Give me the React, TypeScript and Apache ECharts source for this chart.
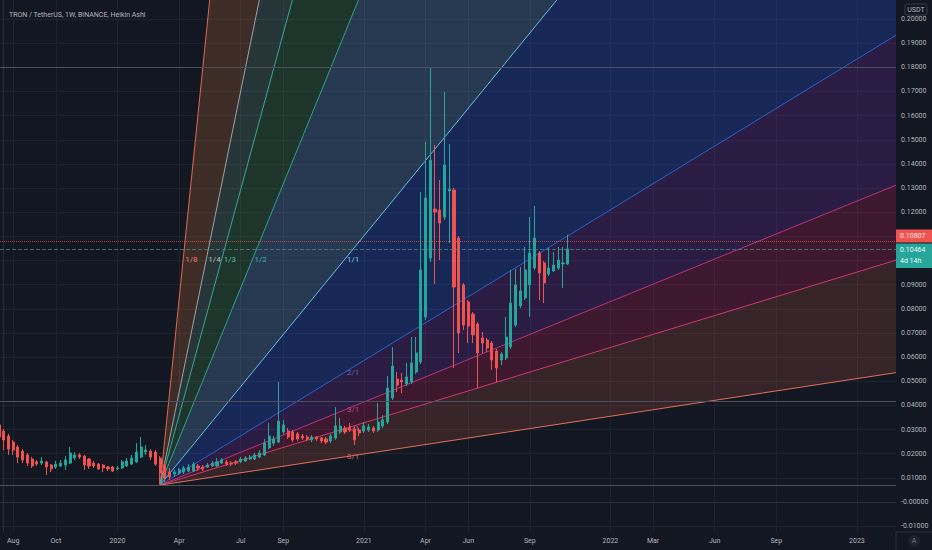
import React, { useEffect, useRef } from "react";
import * as echarts from "echarts";

// ---- axes ----
const X_MIN = -0.78; // week index (0 = week of 2019-07-22)
const X_MAX = 188.25;
const Y_MIN = -0.01242;
const Y_MAX = 0.20787;

const TIME_TICK_WEEKS = [2, 11, 24, 37, 50, 59, 76, 89, 98, 111, 128, 137, 150, 163, 180];
const TIME_TICK_LABELS = ["Aug", "Oct", "2020", "Apr", "Jul", "Sep", "2021", "Apr", "Jun", "Sep", "2022", "Mar", "Jun", "Sep", "2023"];
const PRICE_TICKS = [-0.01, 0, 0.01, 0.02, 0.03, 0.04, 0.05, 0.06, 0.07, 0.08, 0.09, 0.1, 0.11, 0.12, 0.13, 0.14, 0.15, 0.16, 0.17, 0.18, 0.19, 0.2];
const PRICE_LABEL_TICKS = [-0.01, 0, 0.01, 0.02, 0.03, 0.04, 0.05, 0.06, 0.07, 0.08, 0.09, 0.12, 0.13, 0.14, 0.15, 0.16, 0.17, 0.18, 0.19, 0.2];

// ---- Heikin Ashi weekly candles (first week index = -1) ----
const FIRST_WEEK = -1;
const OPEN = [
  0.0319, 0.0294, 0.0273, 0.0248, 0.0228, 0.0211, 0.0195, 0.0178, 0.0166, 0.0161,
  0.0166, 0.0153, 0.0145, 0.0149, 0.0153, 0.0161, 0.0182, 0.0195, 0.0190, 0.0178,
  0.0161, 0.0157, 0.0153, 0.0145, 0.0145, 0.0137, 0.0141, 0.0149, 0.0157, 0.0166,
  0.0186, 0.0207, 0.0211, 0.0207, 0.0182, 0.0153, 0.0124, 0.0116, 0.0120, 0.0124,
  0.0128, 0.0128, 0.0149, 0.0145, 0.0145, 0.0149, 0.0149, 0.0161, 0.0166, 0.0161,
  0.0166, 0.0166, 0.0170, 0.0178, 0.0178, 0.0186, 0.0195, 0.0224, 0.0244, 0.0248,
  0.0290, 0.0294, 0.0290, 0.0282, 0.0273, 0.0269, 0.0257, 0.0269, 0.0265, 0.0261,
  0.0253, 0.0265, 0.0290, 0.0306, 0.0306, 0.0302, 0.0298, 0.0294, 0.0298, 0.0306,
  0.0298, 0.0315, 0.0331, 0.0431, 0.0509, 0.0505, 0.0489, 0.0497, 0.0538, 0.0580,
  0.0766, 0.1010, 0.1213, 0.1209, 0.1180, 0.1288, 0.1292, 0.1093, 0.0899, 0.0828,
  0.0778, 0.0737, 0.0679, 0.0671, 0.0658, 0.0625, 0.0588, 0.0596, 0.0642, 0.0733,
  0.0812, 0.0845, 0.0899, 0.0969, 0.1031, 0.0990, 0.0944, 0.0957, 0.0969, 0.0986,
  0.0986,
];
const CLOSE = [
  0.0269, 0.0257, 0.0219, 0.0215, 0.0186, 0.0174, 0.0161, 0.0149, 0.0157, 0.0170,
  0.0145, 0.0137, 0.0157, 0.0161, 0.0174, 0.0203, 0.0195, 0.0186, 0.0153, 0.0149,
  0.0149, 0.0137, 0.0141, 0.0137, 0.0128, 0.0141, 0.0166, 0.0170, 0.0182, 0.0207,
  0.0228, 0.0215, 0.0186, 0.0157, 0.0120, 0.0099, 0.0104, 0.0124, 0.0133, 0.0141,
  0.0145, 0.0157, 0.0141, 0.0137, 0.0153, 0.0161, 0.0166, 0.0174, 0.0157, 0.0157,
  0.0161, 0.0178, 0.0182, 0.0186, 0.0195, 0.0203, 0.0244, 0.0273, 0.0261, 0.0335,
  0.0319, 0.0269, 0.0257, 0.0261, 0.0265, 0.0261, 0.0269, 0.0261, 0.0253, 0.0248,
  0.0273, 0.0315, 0.0315, 0.0290, 0.0298, 0.0257, 0.0286, 0.0315, 0.0311, 0.0294,
  0.0331, 0.0340, 0.0472, 0.0563, 0.0484, 0.0497, 0.0518, 0.0576, 0.0617, 0.0961,
  0.1259, 0.1416, 0.1201, 0.1155, 0.1395, 0.1296, 0.0890, 0.0700, 0.0733, 0.0729,
  0.0692, 0.0617, 0.0658, 0.0638, 0.0588, 0.0555, 0.0613, 0.0683, 0.0824, 0.0899,
  0.0874, 0.0961, 0.1031, 0.1093, 0.0948, 0.0907, 0.0969, 0.0981, 0.1002, 0.0990,
  0.1048,
];
const LOW = [
  0.0257, 0.0215, 0.0195, 0.0195, 0.0161, 0.0161, 0.0149, 0.0141, 0.0149, 0.0153,
  0.0112, 0.0124, 0.0137, 0.0145, 0.0133, 0.0157, 0.0174, 0.0178, 0.0133, 0.0137,
  0.0141, 0.0133, 0.0124, 0.0128, 0.0124, 0.0133, 0.0137, 0.0145, 0.0153, 0.0161,
  0.0182, 0.0195, 0.0174, 0.0149, 0.0075, 0.0083, 0.0091, 0.0104, 0.0112, 0.0116,
  0.0124, 0.0124, 0.0128, 0.0128, 0.0141, 0.0145, 0.0145, 0.0157, 0.0149, 0.0149,
  0.0153, 0.0161, 0.0166, 0.0174, 0.0174, 0.0182, 0.0190, 0.0219, 0.0232, 0.0244,
  0.0282, 0.0261, 0.0248, 0.0253, 0.0257, 0.0253, 0.0248, 0.0253, 0.0244, 0.0240,
  0.0244, 0.0257, 0.0282, 0.0282, 0.0290, 0.0236, 0.0273, 0.0286, 0.0290, 0.0286,
  0.0290, 0.0306, 0.0323, 0.0422, 0.0455, 0.0451, 0.0480, 0.0489, 0.0530, 0.0571,
  0.0754, 0.0994, 0.0903, 0.1002, 0.1168, 0.1072, 0.0555, 0.0617, 0.0712, 0.0658,
  0.0658, 0.0472, 0.0617, 0.0621, 0.0547, 0.0497, 0.0567, 0.0588, 0.0634, 0.0725,
  0.0803, 0.0836, 0.0766, 0.0961, 0.0836, 0.0824, 0.0936, 0.0952, 0.0961, 0.0886,
  0.0981,
];
const HIGH = [
  0.0327, 0.0302, 0.0282, 0.0257, 0.0236, 0.0219, 0.0203, 0.0186, 0.0174, 0.0186,
  0.0170, 0.0157, 0.0170, 0.0174, 0.0190, 0.0228, 0.0207, 0.0203, 0.0195, 0.0182,
  0.0170, 0.0161, 0.0157, 0.0149, 0.0149, 0.0149, 0.0174, 0.0182, 0.0195, 0.0244,
  0.0269, 0.0236, 0.0219, 0.0215, 0.0190, 0.0161, 0.0141, 0.0133, 0.0141, 0.0149,
  0.0157, 0.0166, 0.0157, 0.0153, 0.0161, 0.0170, 0.0182, 0.0182, 0.0174, 0.0170,
  0.0174, 0.0186, 0.0190, 0.0195, 0.0203, 0.0215, 0.0261, 0.0327, 0.0273, 0.0497,
  0.0340, 0.0306, 0.0298, 0.0290, 0.0282, 0.0277, 0.0277, 0.0273, 0.0269, 0.0269,
  0.0282, 0.0393, 0.0348, 0.0315, 0.0327, 0.0311, 0.0306, 0.0331, 0.0323, 0.0315,
  0.0410, 0.0360, 0.0522, 0.0642, 0.0538, 0.0534, 0.0576, 0.0683, 0.0683, 0.1284,
  0.1491, 0.1801, 0.1478, 0.1333, 0.1698, 0.1482, 0.1300, 0.1101, 0.0907, 0.0836,
  0.0787, 0.0745, 0.0704, 0.0679, 0.0667, 0.0634, 0.0621, 0.0766, 0.0961, 0.0965,
  0.0973, 0.1056, 0.1180, 0.1226, 0.1039, 0.0998, 0.1052, 0.1035, 0.1056, 0.1056,
  0.1106,
];

// ---- Gann fan ----
const FAN_ANCHOR_WEEKS = [33, 72];
const FAN_ANCHOR_PRICES = [0.007, 0.1006];
const FAN_LABELS = ["1/8", "1/4", "1/3", "1/2", "1/1", "2/1", "3/1", "4/1", "8/1"];
const FAN_SLOPE_MULT = [8, 4, 3, 2, 1, 1 / 2, 1 / 3, 1 / 4, 1 / 8];
const FAN_LINE_COLORS = ["#e0684f", "#9ea1a3", "#38a898", "#2aa585", "#5ec2e0", "#2c60c8", "#b8337a", "#cf386a", "#e0705a"];
const FAN_LABEL_COLORS = ["#f2766a", "#b8bcc0", "#4db6ac", "#3bb3a0", "#7ec3e0", "#5468b8", "#b04a86", "#c84a7a", "#d0665c"];
const FAN_FILL_COLORS = [
  "rgba(255,152,60,0.18)",
  "rgba(130,200,160,0.18)",
  "rgba(76,175,80,0.2)",
  "rgba(100,160,220,0.25)",
  "rgba(41,98,255,0.24)",
  "rgba(140,50,200,0.2)",
  "rgba(233,30,99,0.2)",
  "rgba(240,100,80,0.17)",
];

// ---- horizontal levels & price tags ----
const H_LEVELS = [0.18, 0.0418, 0.007];
const PREV_PRICE = 0.1081;
const PREV_PRICE_TEXT = "0.10807";
const LAST_PRICE = 0.1048;
const LAST_PRICE_TEXT = "0.10464";
const COUNTDOWN_TEXT = "4d 14h";
const TITLE = "TRON / TetherUS, 1W, BINANCE, Heikin Ashi";

const BG = "#131722";
const TXT = "#b2b5be";
const GRID = "#1e2230";
const BORDER = "#2a2e39";
const UP = "#26a69a";
const DOWN = "#ef5350";
const FONT = "Roboto, sans-serif";
const FS = 7;

export default function App() {
  const ref = useRef<HTMLDivElement>(null);
  useEffect(() => {
    document.body.style.margin = "0";
    const chart = echarts.init(ref.current!, null, { renderer: "svg" });
    const candles = OPEN.map((o, i) => [FIRST_WEEK + i, o, CLOSE[i], LOW[i], HIGH[i]]);
    const fanData = FAN_LABELS.map((_, i) => [FAN_ANCHOR_WEEKS[0], FAN_ANCHOR_PRICES[0], i]);

    const option: any = {
      animation: false,
      backgroundColor: BG,
      title: {
        text: TITLE,
        left: 4,
        top: 6,
        textStyle: { color: TXT, fontSize: FS, fontWeight: "normal", fontFamily: FONT },
      },
      grid: { left: 0, right: 36, top: 0, bottom: 18, containLabel: false, outerBoundsMode: "none" },
      xAxis: {
        type: "value",
        min: X_MIN,
        max: X_MAX,
        axisLine: { show: true, lineStyle: { color: BORDER } },
        axisTick: { show: false, customValues: TIME_TICK_WEEKS },
        axisLabel: {
          customValues: TIME_TICK_WEEKS,
          color: TXT,
          fontSize: FS,
          fontFamily: FONT,
          margin: 5,
          formatter: (v: number) => {
            const k = TIME_TICK_WEEKS.indexOf(Math.round(v));
            return k >= 0 ? TIME_TICK_LABELS[k] : "";
          },
        },
        splitLine: { show: true, lineStyle: { color: GRID, width: 1 } },
      },
      yAxis: {
        type: "value",
        position: "right",
        min: Y_MIN,
        max: Y_MAX,
        axisLine: { show: true, lineStyle: { color: BORDER } },
        axisTick: { show: false, customValues: PRICE_TICKS },
        axisLabel: {
          customValues: PRICE_LABEL_TICKS,
          color: TXT,
          fontSize: FS,
          fontFamily: FONT,
          margin: 5,
          formatter: (v: number) => (Math.abs(v) < 1e-9 ? "-0.00000" : v.toFixed(5)),
        },
        splitLine: { show: true, lineStyle: { color: GRID, width: 1 } },
      },
      series: [
        {
          type: "custom",
          clip: true,
          silent: true,
          data: fanData,
          encode: { x: 0, y: 1 },
          renderItem: (_params: any, api: any) => {
            const i = api.value(2) as number;
            const w0 = FAN_ANCHOR_WEEKS[0];
            const p0 = FAN_ANCHOR_PRICES[0];
            const w1 = FAN_ANCHOR_WEEKS[1];
            const p1 = FAN_ANCHOR_PRICES[1];
            const k = (p1 - p0) / (w1 - w0);
            const wEnd = X_MAX + 2;
            const endOf = (j: number) => api.coord([wEnd, p0 + k * FAN_SLOPE_MULT[j] * (wEnd - w0)]);
            const o = api.coord([w0, p0]);
            const e = endOf(i);
            const children: any[] = [];
            if (i < FAN_LABELS.length - 1) {
              children.push({
                type: "polygon",
                shape: { points: [o, e, endOf(i + 1)] },
                style: { fill: FAN_FILL_COLORS[i] },
                z2: 0,
              });
            }
            children.push({
              type: "line",
              shape: { x1: o[0], y1: o[1], x2: e[0], y2: e[1] },
              style: { stroke: FAN_LINE_COLORS[i], lineWidth: 1 },
              z2: 1,
            });
            const m = FAN_SLOPE_MULT[i];
            const lp = m >= 1 ? [w0 + (p1 - p0) / (k * m), p1] : [w1, p0 + k * m * (w1 - w0)];
            const c = api.coord(lp);
            children.push({
              type: "text",
              x: c[0] + 2,
              y: c[1],
              style: {
                text: FAN_LABELS[i],
                fill: FAN_LABEL_COLORS[i],
                fontSize: 8,
                fontFamily: FONT,
                align: "left",
                verticalAlign: "middle",
              },
              z2: 2,
            });
            return { type: "group", children };
          },
        },
        {
          type: "candlestick",
          data: candles,
          encode: { x: 0, y: [1, 2, 3, 4] },
          barWidth: 2.6,
          itemStyle: { color: UP, color0: DOWN, borderColor: UP, borderColor0: DOWN, borderWidth: 1 },
          markLine: {
            silent: true,
            precision: 6,
            symbol: ["none", "none"],
            label: { show: false },
            data: [
              ...H_LEVELS.map((v) => ({ yAxis: v, lineStyle: { color: "#4c505c", type: "solid", width: 1 } })),
              { yAxis: PREV_PRICE, lineStyle: { color: DOWN, type: "dotted", width: 1, opacity: 0.7 } },
              { yAxis: LAST_PRICE, lineStyle: { color: "#4a8f88", type: "dashed", width: 1, opacity: 0.7 } },
            ],
          },
        },
      ],
    };
    chart.setOption(option);

    const yPrev = chart.convertToPixel({ gridIndex: 0 }, [X_MAX, PREV_PRICE])[1];
    const rect = (chart as any).getModel().getComponent("grid", 0).coordinateSystem.getRect();
    const axisX = rect.x + rect.width;
    const axisBottom = rect.y + rect.height;
    const redTop = yPrev - 11.5;
    const greenTop = redTop + 14;
    chart.setOption({
      graphic: [
        { type: "line", shape: { x1: axisX, y1: axisBottom, x2: 932, y2: axisBottom }, style: { stroke: BORDER, lineWidth: 1 } },
        { type: "line", shape: { x1: axisX, y1: axisBottom, x2: axisX, y2: 550 }, style: { stroke: BORDER, lineWidth: 1 } },
        { type: "rect", shape: { x: axisX, y: redTop, width: 36, height: 13 }, style: { fill: DOWN } },
        {
          type: "text",
          x: axisX + 4,
          y: redTop + 6.5,
          style: { text: PREV_PRICE_TEXT, fill: "#fde8e8", fontSize: FS, fontFamily: FONT, verticalAlign: "middle" },
        },
        { type: "rect", shape: { x: axisX, y: greenTop, width: 36, height: 24.5 }, style: { fill: UP } },
        {
          type: "text",
          x: axisX + 4,
          y: greenTop + 6.5,
          style: { text: LAST_PRICE_TEXT, fill: "#e6fbf8", fontSize: FS, fontFamily: FONT, verticalAlign: "middle" },
        },
        {
          type: "text",
          x: axisX + 4,
          y: greenTop + 17.5,
          style: { text: COUNTDOWN_TEXT, fill: "#e6fbf8", fontSize: FS, fontFamily: FONT, verticalAlign: "middle" },
        },
        {
          type: "rect",
          shape: { x: axisX + 9, y: 4, width: 22, height: 11, r: 2 },
          style: { fill: BG, stroke: "#363a45", lineWidth: 1 },
        },
        {
          type: "text",
          x: axisX + 20,
          y: 9.5,
          style: { text: "USDT", fill: TXT, fontSize: FS, fontFamily: FONT, align: "center", verticalAlign: "middle" },
        },
        { type: "circle", shape: { cx: axisX + 18, cy: axisBottom + 9, r: 6 }, style: { fill: "#1e222d" } },
        {
          type: "text",
          x: axisX + 18,
          y: axisBottom + 9,
          style: { text: "A", fill: "#787b86", fontSize: FS, fontFamily: FONT, align: "center", verticalAlign: "middle" },
        },
      ],
    });
    return () => chart.dispose();
  }, []);
  return (
    <div
      ref={ref}
      style={{ position: "fixed", left: 0, top: 0, width: 932, height: 550, background: BG }}
    />
  );
}
